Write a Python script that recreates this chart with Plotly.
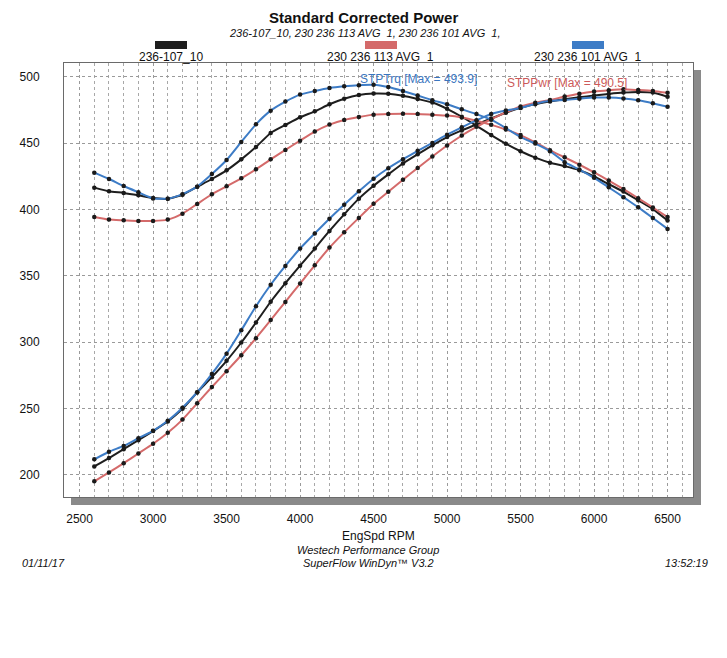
import plotly.graph_objects as go

rpm = [2600, 2700, 2800, 2900, 3000, 3100, 3200, 3300, 3400, 3500,
       3600, 3700, 3800, 3900, 4000, 4100, 4200, 4300, 4400, 4500,
       4600, 4700, 4800, 4900, 5000, 5100, 5200, 5300, 5400, 5500,
       5600, 5700, 5800, 5900, 6000, 6100, 6200, 6300, 6400, 6500]

# 236-107_10 (black)
trq_black = [416.4, 413.6, 412.4, 410.6, 408.5, 408.0, 411.0, 417.0, 422.9, 429.4,
             437.7, 447.0, 457.6, 463.6, 469.4, 473.9, 479.2, 483.4, 486.2, 487.3,
             487.1, 485.6, 483.2, 480.5, 475.8, 469.8, 463.0, 456.0, 449.5, 443.8,
             439.0, 435.2, 432.6, 429.5, 424.8, 419.0, 413.4, 406.8, 400.2, 391.6]
pwr_black = [206.3, 212.6, 219.3, 226.1, 233.0, 240.2, 249.7, 262.1, 273.6, 285.9,
             299.7, 314.8, 330.4, 344.4, 357.6, 370.5, 383.8, 396.3, 408.1, 417.8,
             426.4, 434.6, 441.5, 448.3, 454.5, 459.5, 464.0, 468.5, 472.8, 476.5,
             479.3, 481.3, 483.0, 484.5, 485.8, 487.0, 488.0, 488.5, 488.0, 484.8]

# 230 236 113 AVG 1 (red)
trq_red = [394.3, 392.3, 391.8, 391.3, 391.3, 392.3, 396.8, 404.1, 411.4, 417.4,
           423.4, 430.2, 437.7, 444.8, 451.8, 458.6, 463.9, 467.4, 469.6, 471.4,
           471.9, 472.0, 471.9, 471.3, 470.7, 469.3, 466.8, 463.7, 460.2, 456.0,
           450.5, 444.5, 439.2, 433.7, 427.9, 421.7, 415.3, 408.4, 401.4, 394.2]
pwr_red = [195.1, 201.8, 208.8, 216.1, 223.4, 231.7, 241.6, 253.9, 266.2, 278.1,
           290.1, 303.0, 316.6, 330.3, 344.1, 357.9, 371.2, 382.7, 393.6, 404.2,
           413.3, 422.4, 431.2, 439.8, 448.1, 455.7, 462.2, 467.9, 473.1, 477.5,
           480.4, 482.4, 485.0, 487.2, 488.8, 489.8, 490.5, 489.9, 489.2, 487.8]

# 230 236 101 AVG 1 (blue)
trq_blue = [427.7, 422.9, 417.6, 412.9, 408.3, 408.1, 411.5, 417.1, 426.6, 437.2,
            450.8, 464.1, 474.4, 481.2, 486.5, 489.2, 491.5, 492.8, 493.6, 493.9,
            492.2, 489.2, 485.8, 482.3, 479.2, 475.5, 471.8, 467.6, 461.3, 454.5,
            449.6, 443.9, 435.6, 430.0, 423.8, 416.6, 409.2, 401.6, 393.5, 385.3]
pwr_blue = [211.7, 217.4, 221.8, 227.6, 233.2, 240.7, 250.5, 262.2, 276.0, 291.3,
            308.9, 327.0, 343.2, 357.4, 370.5, 381.9, 393.0, 403.5, 413.6, 423.1,
            431.0, 437.8, 444.1, 450.1, 456.3, 461.8, 467.1, 471.9, 474.5, 476.4,
            479.6, 481.8, 482.4, 483.4, 484.3, 484.3, 483.6, 482.2, 480.0, 477.3]

run_names = ["236-107_10", "230 236 113 AVG  1", "230 236 101 AVG  1"]
run_colors = ["#1e1e1e", "#d46a6a", "#3d7cc6"]
x_ticks = [2500, 3000, 3500, 4000, 4500, 5000, 5500, 6000, 6500]
y_ticks = [200, 250, 300, 350, 400, 450, 500]

FONT = "Liberation Sans, Arial, sans-serif"
OFF = 8  # page body margin in the browser
W, H = 727 - OFF, 658 - OFF
# plot area in reference-page pixels
L_ref, R_ref, T_ref, B_ref = 64, 693, 63, 497
L, R, T, B = L_ref - OFF, R_ref - OFF, T_ref - OFF, B_ref - OFF


def xp(px):
    """reference-page x pixel -> paper coord"""
    return (px - OFF - L) / (R - L)


def yp(py):
    """reference-page y pixel -> paper coord"""
    return (B - (py - OFF)) / (B - T)


fig = go.Figure()
series = [(trq_black, pwr_black), (trq_red, pwr_red), (trq_blue, pwr_blue)]
for (trq, pwr), name, col in zip(series, run_names, run_colors):
    for ys in (trq, pwr):
        fig.add_trace(go.Scatter(
            x=rpm, y=ys, mode="lines+markers", name=name, showlegend=False,
            line=dict(color=col, width=2, shape="spline", smoothing=0.5),
            marker=dict(color="#1a1a1a", size=4.5),
            hoverinfo="skip"))

shapes = [
    # drop shadow
    dict(type="rect", xref="paper", yref="paper", x0=xp(R_ref), x1=xp(R_ref + 8),
         y0=yp(T_ref + 7), y1=yp(B_ref + 8), fillcolor="#8a8a8a", line=dict(width=0), layer="below"),
    dict(type="rect", xref="paper", yref="paper", x0=xp(L_ref + 7), x1=xp(R_ref + 8),
         y0=yp(B_ref), y1=yp(B_ref + 8), fillcolor="#8a8a8a", line=dict(width=0), layer="below"),
]
# legend swatches
sw_centers = [171, 381, 588]
for c, col in zip(sw_centers, run_colors):
    shapes.append(dict(type="rect", xref="paper", yref="paper",
                       x0=xp(c - 16), x1=xp(c + 16), y0=yp(49), y1=yp(41),
                       fillcolor=col, line=dict(width=0)))

ann = []
for c, name in zip(sw_centers, run_names):
    ann.append(dict(xref="paper", yref="paper", x=xp(c), y=yp(57), text=name,
                    showarrow=False, xanchor="center", yanchor="middle",
                    font=dict(family=FONT, size=12, color="#111")))
ann += [
    dict(xref="paper", yref="paper", x=xp(363), y=yp(8),
         text="<b>Standard Corrected Power</b>", showarrow=False, borderpad=0,
         xanchor="center", yanchor="top", font=dict(family=FONT, size=15, color="#111")),
    dict(xref="paper", yref="paper", x=xp(365), y=yp(32.5),
         text="<i>236-107_10, 230 236 113 AVG  1, 230 236 101 AVG  1,</i>", showarrow=False,
         borderpad=0, xanchor="center", yanchor="middle",
         font=dict(family=FONT, size=11, color="#111")),
    dict(x=4394, y=498.3, text="STPTrq [Max = 493.9]", showarrow=False,
         xanchor="left", yanchor="middle", font=dict(family=FONT, size=12, color="#3a76bf")),
    dict(x=5393, y=495.3, text="STPPwr [Max = 490.5]", showarrow=False,
         xanchor="left", yanchor="middle", font=dict(family=FONT, size=12, color="#cc5a5a")),
    dict(xref="paper", yref="paper", x=xp(379), y=yp(536), text="EngSpd RPM",
         showarrow=False, xanchor="center", yanchor="middle",
         font=dict(family=FONT, size=12, color="#111")),
    dict(xref="paper", yref="paper", x=xp(368), y=yp(550), text="<i>Westech Performance Group</i>",
         showarrow=False, xanchor="center", yanchor="middle",
         font=dict(family=FONT, size=11, color="#111")),
    dict(xref="paper", yref="paper", x=xp(368), y=yp(563), text="<i>SuperFlow WinDyn™ V3.2</i>",
         showarrow=False, xanchor="center", yanchor="middle",
         font=dict(family=FONT, size=11, color="#111")),
    dict(xref="paper", yref="paper", x=xp(20), y=yp(563), text="<i>01/11/17</i>",
         showarrow=False, xanchor="left", yanchor="middle",
         font=dict(family=FONT, size=11, color="#111")),
    dict(xref="paper", yref="paper", x=xp(710), y=yp(563), text="<i>13:52:19</i>",
         showarrow=False, xanchor="right", yanchor="middle",
         font=dict(family=FONT, size=11, color="#111")),
]

fig.update_layout(
    width=W, height=H, autosize=False,
    margin=dict(l=L, r=W - R, t=T, b=H - B, pad=0),
    paper_bgcolor="white", plot_bgcolor="white",
    showlegend=False, shapes=shapes, annotations=ann,
    font=dict(family=FONT, size=12, color="#111"),
)
fig.update_xaxes(
    range=[2394, 6673], tickvals=x_ticks, ticktext=[str(v) for v in x_ticks],
    showgrid=True, gridcolor="#9a9a9a", griddash="dot", gridwidth=1,
    minor=dict(dtick=100, tick0=2500, showgrid=True, gridcolor="#a8a8a8", griddash="dot", gridwidth=1),
    showline=True, mirror=True, linecolor="#6a6a6a", linewidth=1,
    ticks="", ticklabelstandoff=11, zeroline=False,
    tickfont=dict(family=FONT, size=12, color="#111"),
)
fig.update_yaxes(
    range=[183.3, 510.3], tickvals=y_ticks, ticktext=[str(v) for v in y_ticks],
    showgrid=True, gridcolor="#9a9a9a", griddash="dot", gridwidth=1,
    showline=True, mirror=True, linecolor="#6a6a6a", linewidth=1,
    ticks="", ticklabelstandoff=21, zeroline=False,
    tickfont=dict(family=FONT, size=12, color="#111"),
)

fig.write_html("out.html")
